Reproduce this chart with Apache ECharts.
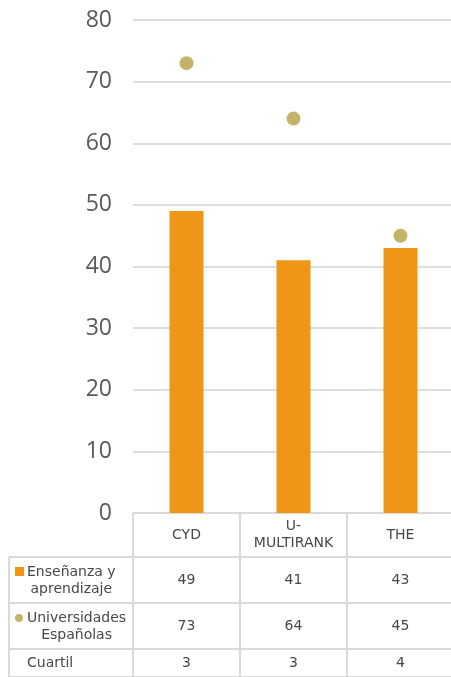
<!DOCTYPE html>
<html>
<head>
<meta charset="utf-8">
<script src="https://cdn.jsdelivr.net/npm/echarts@6/dist/echarts.min.js"></script>
<style>
html,body{margin:0;padding:0;background:#fff;}
#c{width:451px;height:677px;}
</style>
</head>
<body>
<div id="c"></div>
<script>
// ---- data ----
const categories = ['CYD', 'U-\nMULTIRANK', 'THE'];
const ensenanza = [49, 41, 43];
const universidades = [73, 64, 45];
const cuartil = [3, 3, 4];
const rowLabels = ['Enseñanza y\naprendizaje', 'Universidades\nEspañolas', 'Cuartil'];
const seriesNames = ['Enseñanza y aprendizaje', 'Universidades Españolas'];
const yMin = 0, yMax = 80, yStep = 10;

// ---- style ----
const BAR = '#EF9518';
const DOT = '#C4B46A';
const LINE = '#d9d9d9';
const TXT = '#474747';
const TFONT = '"DejaVu Sans", sans-serif';

const chart = echarts.init(document.getElementById('c'), null, {renderer: 'canvas'});
const GRID = {left: 133, top: 20, width: 321, height: 493, outerBoundsMode: 'none', containLabel: false};

chart.setOption({
  animation: false,
  grid: GRID,
  xAxis: {
    type: 'category',
    data: categories,
    axisLine: {show: false},
    axisTick: {show: false},
    axisLabel: {show: false}
  },
  yAxis: {
    type: 'value',
    min: yMin, max: yMax, interval: yStep,
    axisLine: {show: false},
    axisTick: {show: false},
    axisLabel: {color: '#595959', fontSize: 23, fontFamily: '"Open Sans", sans-serif', margin: 21},
    splitLine: {lineStyle: {color: '#dedede', width: 2}}
  },
  series: [
    {name: seriesNames[0], type: 'bar', data: ensenanza, barWidth: 34, itemStyle: {color: BAR}},
    {name: seriesNames[1], type: 'scatter', data: universidades, symbolSize: 14, itemStyle: {color: DOT, opacity: 1}}
  ]
});

// ---- data table built from the axis positions ----
const centers = categories.map((c, i) => chart.convertToPixel({xAxisIndex: 0}, i));
const band = centers[1] - centers[0];
const bounds = [centers[0] - band / 2].concat(centers.map(c => c + band / 2));
const y0 = chart.convertToPixel({yAxisIndex: 0}, yMin);
const rows = [y0, y0 + 44, y0 + 90, y0 + 136, y0 + 164];
const leftX = 9;
const rightX = bounds[bounds.length - 1];

const ctx = document.createElement('canvas').getContext('2d');
ctx.font = '14px ' + TFONT;
function blockWidth(t) { return Math.max.apply(null, t.split('\n').map(s => ctx.measureText(s).width)); }

const g = [];
function hline(y, x1, x2) { g.push({type: 'line', shape: {x1: x1, y1: y, x2: x2, y2: y}, style: {stroke: LINE, lineWidth: 2}, silent: true}); }
function vline(x, y1, y2) { g.push({type: 'line', shape: {x1: x, y1: y1, x2: x, y2: y2}, style: {stroke: LINE, lineWidth: 2}, silent: true}); }
function text(t, x, y, align) {
  g.push({type: 'text', x: x, y: y, style: {text: t, fill: TXT, font: '14px ' + TFONT, align: align || 'center', verticalAlign: 'middle', lineHeight: 17}, silent: true});
}

hline(rows[0], bounds[0], rightX + 2);
for (let r = 1; r < rows.length; r++) hline(rows[r], leftX, rightX + 2);
vline(leftX, rows[1], rows[4] + 4);
bounds.forEach(b => vline(b, rows[0], rows[4] + 4));

// header
categories.forEach((c, i) => text(c, centers[i], (rows[0] + rows[1]) / 2));
// row values
const tableData = [ensenanza, universidades, cuartil];
tableData.forEach((arr, r) => {
  const cy = (rows[r + 1] + rows[r + 2]) / 2;
  arr.forEach((v, i) => text(String(v), centers[i], cy));
});
// row labels
const labelX = 27;
rowLabels.forEach((t, r) => {
  const cy = (rows[r + 1] + rows[r + 2]) / 2 + (r === 2 ? 0 : 1);
  if (t.indexOf('\n') >= 0) {
    text(t, labelX + blockWidth(t) / 2, cy, 'center');
  } else {
    text(t, labelX, cy, 'left');
  }
});
// legend keys
const r1 = (rows[1] + rows[2]) / 2;
const r2 = (rows[2] + rows[3]) / 2;
g.push({type: 'rect', shape: {x: 15, y: r1 - 13, width: 9, height: 9}, style: {fill: BAR}, silent: true});
g.push({type: 'circle', shape: {cx: 19, cy: r2 - 8, r: 4}, style: {fill: DOT}, silent: true});

chart.setOption({graphic: {elements: g}});
</script>
</body>
</html>
